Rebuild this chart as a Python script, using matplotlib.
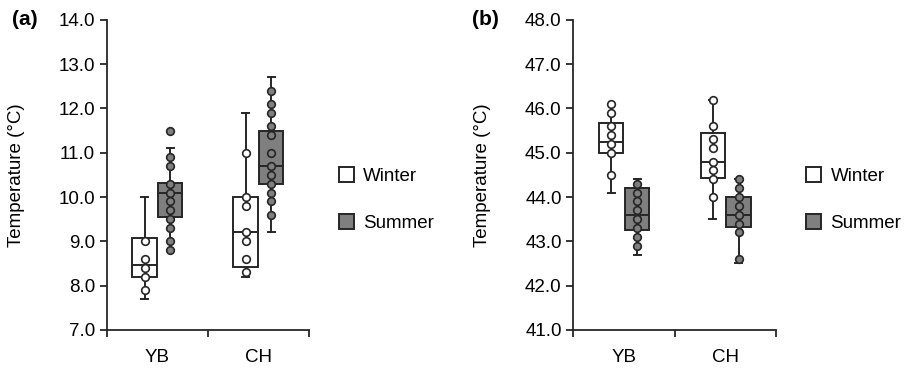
import matplotlib.pyplot as plt
from matplotlib.patches import Patch

plt.rcParams['font.family'] = ['Liberation Sans', 'DejaVu Sans']

sites = ['YB', 'CH']
seasons = ['Winter', 'Summer']

# panel (a): box stats per site, [winter, summer]
a_whislo = [[7.7, 8.8], [8.2, 9.2]]
a_q1 = [[8.2, 9.56], [8.42, 10.3]]
a_med = [[8.47, 10.1], [9.2, 10.7]]
a_q3 = [[9.08, 10.32], [10.0, 11.5]]
a_whishi = [[10.0, 11.1], [11.9, 12.7]]
a_points = [
    [[9.0, 8.6, 8.4, 8.2, 7.9],
     [11.5, 10.9, 10.7, 10.3, 10.1, 9.9, 9.7, 9.5, 9.3, 9.0, 8.8]],
    [[11.0, 10.0, 9.8, 9.2, 9.0, 8.6, 8.3],
     [12.4, 12.1, 11.9, 11.6, 11.4, 11.0, 10.7, 10.5, 10.3, 10.1, 9.9, 9.6]],
]

# panel (b)
b_whislo = [[44.1, 42.7], [43.5, 42.5]]
b_q1 = [[45.0, 43.25], [44.43, 43.32]]
b_med = [[45.25, 43.6], [44.8, 43.6]]
b_q3 = [[45.68, 44.2], [45.45, 44.0]]
b_whishi = [[46.1, 44.4], [46.2, 44.4]]
b_points = [
    [[46.1, 45.9, 45.6, 45.4, 45.2, 45.0, 44.5],
     [44.3, 44.1, 43.9, 43.7, 43.5, 43.3, 43.1, 42.9]],
    [[46.2, 45.6, 45.3, 45.1, 44.8, 44.6, 44.4, 44.0],
     [44.4, 44.2, 44.0, 43.8, 43.6, 43.4, 43.2, 42.6]],
]

fills = ['white', '#7f7f7f']
edge = '#262626'
fs = 13.5


def draw_panel(ax, whislo, q1, med, q3, whishi, points, ylim):
    for i, site in enumerate(sites):
        for j, season in enumerate(seasons):
            pos = i + 0.5 + (j - 0.5) * 0.255
            st = [dict(whislo=whislo[i][j], q1=q1[i][j], med=med[i][j],
                       q3=q3[i][j], whishi=whishi[i][j], fliers=[])]
            ax.bxp(st, positions=[pos], widths=0.24, patch_artist=True,
                   showfliers=False, capwidths=0.07,
                   boxprops=dict(facecolor=fills[j], edgecolor=edge, linewidth=1.4),
                   medianprops=dict(color=edge, linewidth=1.4),
                   whiskerprops=dict(color=edge, linewidth=1.4),
                   capprops=dict(color=edge, linewidth=1.4))
            ax.plot([pos] * len(points[i][j]), points[i][j], 'o', ms=5.5,
                    mfc=fills[j], mec=edge, mew=1.2, zorder=5)
    ax.set_xlim(0, 2)
    ax.set_ylim(*ylim)
    yt = list(range(int(ylim[0]), int(ylim[1]) + 1))
    ax.set_yticks(yt)
    ax.set_yticklabels([f'{v:.1f}' for v in yt])
    ax.set_xticks([0, 1, 2])
    ax.set_xticklabels([])
    ax.set_xticks([0.5, 1.5], minor=True)
    ax.set_xticklabels(sites, minor=True)
    ax.tick_params(axis='x', which='minor', length=0, pad=14, labelsize=fs)
    ax.tick_params(axis='both', which='major', direction='out', length=5,
                   width=1.3, color=edge, labelsize=fs)
    for s in ['top', 'right']:
        ax.spines[s].set_visible(False)
    for s in ['left', 'bottom']:
        ax.spines[s].set_color(edge)
        ax.spines[s].set_linewidth(1.3)
    ax.set_ylabel('Temperature (°C)', fontsize=fs)
    ax.yaxis.set_label_coords(-0.405, 0.5)
    handles = [Patch(facecolor=fills[k], edgecolor=edge, linewidth=1.4, label=seasons[k])
               for k in range(2)]
    ax.legend(handles=handles, loc='center left', bbox_to_anchor=(1.1, 0.42),
              frameon=False, fontsize=fs, handlelength=0.8, handleheight=0.8,
              handletextpad=0.5, labelspacing=1.55, borderpad=0)


fig = plt.figure(figsize=(9.06, 3.69), dpi=100)
ax1 = fig.add_axes([0.118, 0.106, 0.223, 0.84])
ax2 = fig.add_axes([0.633, 0.106, 0.224, 0.84])
draw_panel(ax1, a_whislo, a_q1, a_med, a_q3, a_whishi, a_points, (7, 14))
draw_panel(ax2, b_whislo, b_q1, b_med, b_q3, b_whishi, b_points, (41, 48))
fig.text(0.013, 0.946, '(a)', fontsize=15, weight='bold', va='center')
fig.text(0.521, 0.946, '(b)', fontsize=15, weight='bold', va='center')

plt.savefig('out.png', dpi=100)
